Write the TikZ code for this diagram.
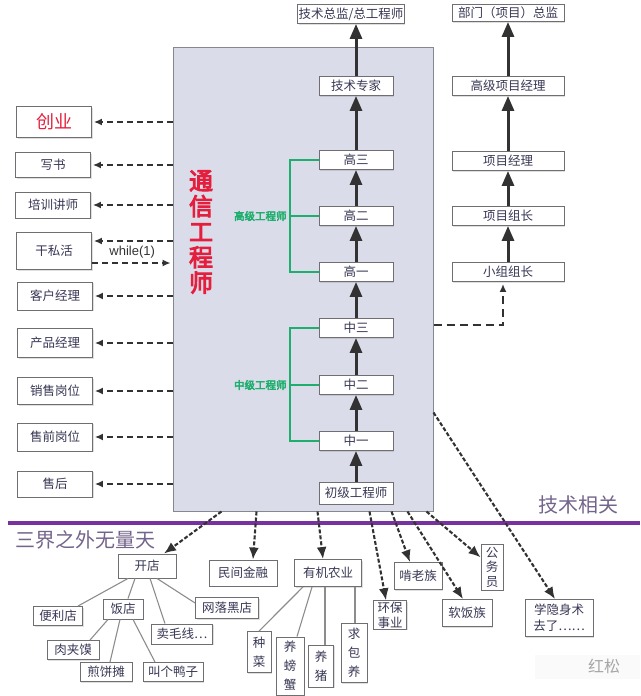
\documentclass[tikz,border=0pt]{standalone}
\usepackage{fontspec}
\setmainfont{Noto Sans CJK SC}
\newfontfamily\heavyfont{Noto Sans CJK SC}[FakeBold=4]
\newfontfamily\codefont{Liberation Sans}
\usepackage{xcolor}
\usepackage{tikz}
\usetikzlibrary{arrows.meta, positioning, shadows}
\definecolor{panelfill}{RGB}{219,220,233}
\definecolor{panelline}{RGB}{135,135,145}
\definecolor{boxline}{RGB}{110,110,115}
\definecolor{boxtext}{RGB}{55,55,85}
\definecolor{climbgray}{RGB}{50,50,50}
\definecolor{dashgray}{RGB}{50,50,50}
\definecolor{twiggray}{RGB}{140,140,140}
\definecolor{rankgreen}{RGB}{30,175,110}
\definecolor{titlered}{RGB}{228,30,60}
\definecolor{sepviolet}{RGB}{120,50,160}
\definecolor{realmgray}{RGB}{115,100,140}
\newcommand{\boxfont}{\fontsize{12.5}{14}\selectfont}
\newcommand{\stackfont}{\fontsize{12.5}{19}\selectfont}
\tikzset{
  panel/.style={draw=panelline, fill=panelfill, line width=1pt},
  rung/.style={draw=boxline, fill=white, line width=0.9pt, inner sep=1pt, minimum width=74pt, minimum height=19pt, font=\boxfont, text=boxtext,
    drop shadow={shadow xshift=1pt, shadow yshift=-1pt, opacity=0.25}},
  track/.style={rung, minimum width=112pt},
  sidejob/.style={rung, minimum width=75pt, minimum height=27pt},
  leaf/.style={rung, minimum width=0pt, inner sep=3pt},
  vleaf/.style={leaf, align=center, font=\stackfont, inner sep=2pt, minimum width=25pt},
  climb/.style={-{Triangle[length=15pt,width=12pt]}, line width=3pt, draw=climbgray, color=climbgray},
  spill/.style={-{Latex[length=8pt,width=7pt]}, line width=1.4pt, dash pattern=on 6pt off 4pt, draw=dashgray, color=dashgray, shorten >=2pt},
  fall/.style={-{Latex[length=12pt,width=10pt]}, line width=2.1pt, dash pattern=on 4pt off 2pt, draw=dashgray, color=dashgray},
  twig/.style={draw=twiggray, line width=1.1pt},
  bracket/.style={draw=rankgreen, line width=2pt},
  ranklabel/.style={font=\heavyfont\fontsize{10.5}{12}\selectfont, text=rankgreen, inner sep=2pt},
  realm/.style={font=\fontsize{20}{22}\selectfont, text=realmgray},
  every node/.style={font=\boxfont}
}
\begin{document}
\begin{tikzpicture}[x=1pt, y=-1pt]
    \useasboundingbox (0,0) rectangle (640,696);
    % central panel
    \node[panel, minimum width=260pt, minimum height=464pt] (panel) at (303,279) {};
    \node[font=\heavyfont\fontsize{24}{25.5}\selectfont, text=titlered, align=center] (title) at (201,232) {通\\信\\工\\程\\师};

    % engineer ladder
    \node[rung, minimum height=22pt] (chuji) at (356,493) {初级工程师};
    \node[rung] (zhong1) at (356,441) {中一};
    \node[rung] (zhong2) at (356,385) {中二};
    \node[rung] (zhong3) at (356,328) {中三};
    \node[rung] (gao1) at (356,272) {高一};
    \node[rung] (gao2) at (356,216) {高二};
    \node[rung] (gao3) at (356,160) {高三};
    \node[rung] (zhuanjia) at (356,86) {技术专家};
    \node[rung, minimum width=0pt] (zongjian) at (351,14) {技术总监/总工程师};

    \draw[climb] (chuji) -- (zhong1);
    \draw[climb] (zhong1) -- (zhong2);
    \draw[climb] (zhong2) -- (zhong3);
    \draw[climb] (zhong3) -- (gao1);
    \draw[climb] (gao1) -- (gao2);
    \draw[climb] (gao2) -- (gao3);
    \draw[climb] (gao3) -- (zhuanjia);
    \draw[climb] (zhuanjia) -- (zhuanjia |- zongjian.south);

    \draw[bracket] (gao3.west) -- ++(-29,0) |- (gao1.west);
    \draw[bracket] (gao2.west) -- ++(-29,0) node[left, ranklabel] (gaolabel) {高级工程师};
    \draw[bracket] (zhong3.west) -- ++(-29,0) |- (zhong1.west);
    \draw[bracket] (zhong2.west) -- ++(-29,0) node[left, ranklabel] (zhonglabel) {中级工程师};

    % project track
    \node[track] (xiaozu) at (508,272) {小组组长};
    \node[track] (zuzhang) at (508,216) {项目组长};
    \node[track] (xiangmu) at (508,161) {项目经理};
    \node[track] (gaoxiang) at (508,86) {高级项目经理};
    \node[track, minimum height=17pt] (bumen) at (508,13) {部门（项目）总监};

    \draw[climb] (xiaozu) -- (zuzhang);
    \draw[climb] (zuzhang) -- (xiangmu);
    \draw[climb] (xiangmu) -- (gaoxiang);
    \draw[climb] (gaoxiang) -- (bumen);
    \coordinate (pm-exit) at ([yshift=-46pt]panel.east);
    \draw[spill, line width=1.6pt, dash pattern=on 8pt off 5pt] (pm-exit) -| ([xshift=-5pt]xiaozu.south);

    % side jobs
    \node[sidejob, minimum height=31pt, text=titlered, font=\fontsize{18}{20}\selectfont] (chuangye) at (54,122) {创业};
    \node[sidejob, minimum height=25pt] (xieshu) at (53,165) {写书};
    \node[sidejob, minimum height=26pt] (peixun) at (53,205) {培训讲师};
    \node[sidejob, minimum height=37pt] (ganhuo) at (54,251) {干私活};
    \node[sidejob, minimum height=28pt] (kehu) at (55,296) {客户经理};
    \node[sidejob, minimum height=29pt] (chanpin) at (55,343) {产品经理};
    \node[sidejob, minimum height=27pt] (xiaoshou) at (55,391) {销售岗位};
    \node[sidejob, minimum height=28pt] (shouqian) at (55,437) {售前岗位};
    \node[sidejob, minimum height=26pt] (shouhou) at (55,484) {售后};

    \draw[spill] (panel.west |- chuangye) -- (chuangye);
    \draw[spill] (panel.west |- xieshu) -- (xieshu);
    \draw[spill] (panel.west |- peixun) -- (peixun);
    \coordinate (gan-in) at ([yshift=10pt]ganhuo.east);
    \coordinate (gan-out) at ([yshift=-12pt]ganhuo.east);
    \draw[spill] (panel.west |- gan-in) -- (gan-in);
    \draw[spill] (gan-out) -- (panel.west |- gan-out) node[midway, above=1pt, font=\codefont\fontsize{13}{14}\selectfont, text=black!80] {while(1)};
    \draw[spill] (panel.west |- kehu) -- (kehu);
    \draw[spill] (panel.west |- chanpin) -- (chanpin);
    \draw[spill] (panel.west |- xiaoshou) -- (xiaoshou);
    \draw[spill] (panel.west |- shouqian) -- (shouqian);
    \draw[spill] (panel.west |- shouhou) -- (shouhou);

    % border line
    \draw[sepviolet, line width=3.5pt] (8,523) -- (640,523);
    \node[realm] (jishu) at (578,505) {技术相关};
    \node[realm] (sanjie) at (86,540) {三界之外无量天};

    % outside world
    \node[leaf, minimum height=24pt, minimum width=58pt] (kaidian) at (147,566) {开店};
    \node[leaf, minimum height=26pt, minimum width=68pt] (minjian) at (243,573) {民间金融};
    \node[leaf, minimum height=27pt, minimum width=67pt] (youji) at (328,573) {有机农业};
    \node[leaf, minimum height=19pt, minimum width=49pt] (bianli) at (58,616) {便利店};
    \node[leaf, minimum height=20pt, minimum width=40pt] (fandian) at (123,609) {饭店};
    \node[leaf, minimum height=21pt, minimum width=63pt] (wangluo) at (227,608) {网落黑店};
    \node[leaf, minimum height=20pt, minimum width=61pt] (maimao) at (182,634) {卖毛线…};
    \node[leaf, minimum height=19pt, minimum width=52pt] (roujiamo) at (73,650) {肉夹馍};
    \node[leaf, minimum height=19pt, minimum width=52pt] (jianbing) at (106,672) {煎饼摊};
    \node[leaf, minimum height=19pt, minimum width=60pt] (jiaoge) at (173,672) {叫个鸭子};
    \node[vleaf, minimum height=41pt, minimum width=24pt] (zhongcai) at (259,652) {种\\菜};
    \node[vleaf, minimum height=58pt, minimum width=28pt] (pangxie) at (290,666) {养\\螃\\蟹};
    \node[vleaf, minimum height=42pt] (yangzhu) at (321,666) {养\\猪};
    \node[vleaf, minimum height=59pt, minimum width=26pt] (qiubao) at (354,653) {求\\包\\养};
    \node[leaf, align=center, inner sep=1pt, font=\fontsize{12.5}{15}\selectfont, minimum width=33pt] (huanbao) at (390,615) {环保\\事业};
    \node[leaf, minimum height=27pt, minimum width=48pt] (kenlao) at (418,576) {啃老族};
    \node[vleaf, font=\fontsize{12.5}{14.5}\selectfont, minimum height=46pt, minimum width=22pt] (gongwu) at (492,567) {公\\务\\员};
    \node[leaf, minimum height=27pt, minimum width=50pt] (ruanfan) at (467,613) {软饭族};
    \node[leaf, align=center, font=\fontsize{12.5}{16}\selectfont, minimum width=68pt, minimum height=37pt] (xueyin) at (559,618) {学隐身术\\去了……};

    \coordinate (ex-kaidian) at ([xshift=49pt]panel.south west);
    \coordinate (ex-minjian) at ([xshift=84pt]panel.south west);
    \coordinate (ex-youji) at ([xshift=145pt]panel.south west);
    \coordinate (ex-huanbao) at ([xshift=197pt]panel.south west);
    \coordinate (ex-kenlao) at ([xshift=219pt]panel.south west);
    \coordinate (ex-ruanfan) at ([xshift=235pt]panel.south west);
    \coordinate (ex-gongwu) at ([xshift=254pt]panel.south west);
    \coordinate (ex-xueyin) at ([yshift=99pt]panel.south east);

    \draw[fall] (ex-kaidian) -- (kaidian);
    \draw[fall] (ex-minjian) -- ([xshift=10pt]minjian.north);
    \draw[fall] (ex-youji) -- ([xshift=-5pt]youji.north);
    \draw[fall] (ex-huanbao) -- ([xshift=-4pt]huanbao.north);
    \draw[fall] (ex-kenlao) -- ([xshift=-8pt]kenlao.north);
    \draw[fall] (ex-ruanfan) -- ([xshift=-4pt]ruanfan.north);
    \draw[fall] (ex-gongwu) -- (gongwu);
    \draw[fall] (ex-xueyin) -- ([xshift=-4pt]xueyin.north);

    \draw[twig] ([xshift=-19pt]kaidian.south) -- ([xshift=-5pt]bianli.north east);
    \draw[twig] ([xshift=-12pt]kaidian.south) -- ([xshift=5pt]fandian.north);
    \draw[twig] ([xshift=3pt]kaidian.south) -- ([xshift=-17pt]maimao.north);
    \draw[twig] ([xshift=10pt]kaidian.south) -- ([yshift=5pt]wangluo.west);
    \draw[twig] ([xshift=-15pt]fandian.south) -- ([xshift=17pt]roujiamo.north);
    \draw[twig] ([xshift=-3pt]fandian.south) -- ([xshift=4pt]jianbing.north);
    \draw[twig] ([xshift=10pt]fandian.south) -- ([xshift=-18pt]jiaoge.north);
    \draw[twig] ([xshift=-25pt]youji.south) -- (zhongcai.north);
    \draw[twig] ([xshift=-16pt]youji.south) -- ([xshift=7pt]pangxie.north);
    \draw[twig] ([xshift=-3pt]youji.south) -- ([xshift=4pt]yangzhu.north);
    \draw[twig] ([xshift=27pt]youji.south) -- ([xshift=1pt]qiubao.north);

    % watermark
    \fill[black!2] (535,655) rectangle (640,679);
    \node[text=black!35, font=\fontsize{16}{18}\selectfont] (mark) at (604,666) {红松};
\end{tikzpicture}
\end{document}
